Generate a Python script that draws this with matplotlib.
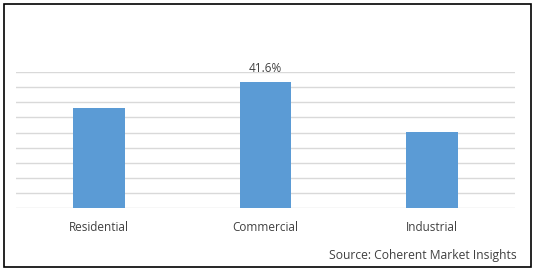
import matplotlib.pyplot as plt
from matplotlib.patches import Rectangle

# data
categories = ['Residential', 'Commercial', 'Industrial']
shares = [33.2, 41.6, 25.2]
labelled = [False, True, False]
source = 'Source: Coherent Market Insights'

plt.rcParams['font.family'] = ['Open Sans', 'DejaVu Sans']

fig = plt.figure(figsize=(5.34, 2.71), dpi=100)
ax = fig.add_axes([0.030, 0.2314, 0.9344, 0.5029])

x = range(len(categories))
bars = ax.bar(x, shares, width=0.31, color='#5B9BD5', zorder=3)
for b, v, show in zip(bars, shares, labelled):
    if show:
        ax.annotate(f'{v}%', (b.get_x() + b.get_width() / 2, v),
                    xytext=(0, 5), textcoords='offset points',
                    ha='center', va='bottom', fontsize=8.5, color='#404040')

ax.set_xlim(-0.5, len(categories) - 0.5)
ax.set_ylim(0, 45)
ax.set_yticks(range(0, 46, 5))
ax.yaxis.grid(True, color='#D9D9D9', linewidth=1, zorder=0)
ax.set_yticklabels([])
ax.tick_params(axis='y', length=0)
ax.tick_params(axis='x', length=0, pad=9, labelsize=8.5, labelcolor='#404040')
ax.set_xticks(list(x))
ax.set_xticklabels(categories)
for s in ax.spines.values():
    s.set_visible(False)

fig.text(0.968, 0.057, source, ha='right', va='center', fontsize=8.7, color='#404040')

# outer frame
fig.patches.append(Rectangle((0.007, 0.016), 0.987, 0.968, transform=fig.transFigure,
                             fill=False, edgecolor='black', linewidth=1.2))

fig.savefig('out.png', dpi=100)
